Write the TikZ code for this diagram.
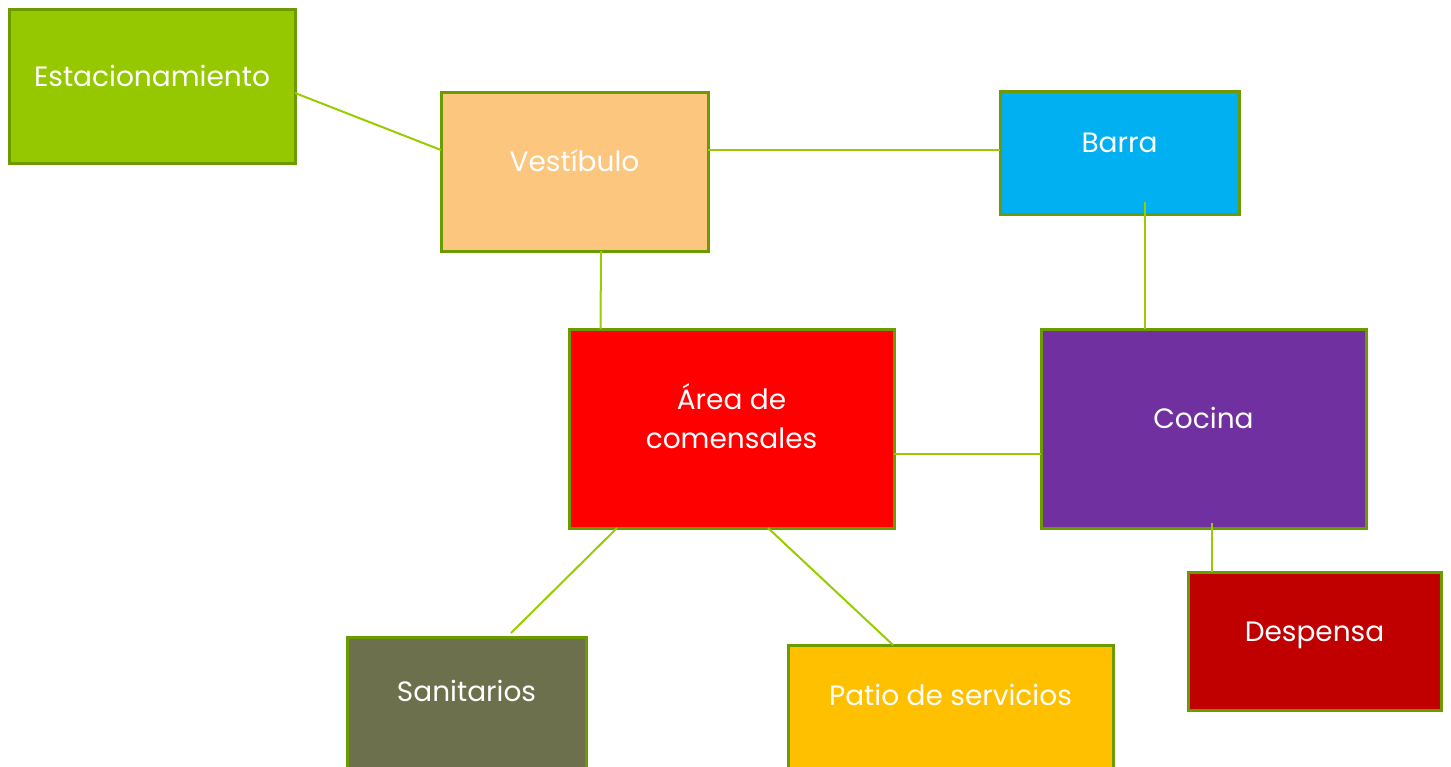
\documentclass[tikz,border=0pt]{standalone}
\usepackage{fontspec}
\setmainfont{Poppins}
\usetikzlibrary{calc}
\definecolor{bordergreen}{HTML}{6B9B00}
\definecolor{linkgreen}{HTML}{99CC00}
\definecolor{cEst}{HTML}{96C800}
\definecolor{cVes}{HTML}{FDC67F}
\definecolor{cBar}{HTML}{00B0F0}
\definecolor{cArea}{HTML}{FF0000}
\definecolor{cCoc}{HTML}{7030A0}
\definecolor{cDes}{HTML}{C00000}
\definecolor{cSan}{HTML}{6C704C}
\definecolor{cPat}{HTML}{FFC000}
\tikzset{
  box/.style={draw=bordergreen, line width=3pt, rectangle, anchor=north west,
    inner sep=0pt, outer sep=0pt},
  lbl/.style={text=white, font=\fontsize{28}{38}\selectfont, align=center, inner sep=0pt, anchor=base},
  conn/.style={draw=linkgreen, line width=2pt}
}
\begin{document}
\begin{tikzpicture}[x=1pt, y=-1pt]
\useasboundingbox (0,0) rectangle (1451,766);
\clip (0,0) rectangle (1451,766);
% boxes
\node[box, fill=cEst, minimum width=286pt, minimum height=154pt] (est) at (9,9) {};
\node[box, fill=cVes, minimum width=267pt, minimum height=159pt] (ves) at (441,92) {};
\node[box, fill=cBar, minimum width=239pt, minimum height=123pt] (bar) at (1000,91) {};
\node[box, fill=cArea, minimum width=325pt, minimum height=199pt] (area) at (569,329) {};
\node[box, fill=cCoc, minimum width=325pt, minimum height=199pt] (coc) at (1041,329) {};
\node[box, fill=cDes, minimum width=253pt, minimum height=138pt] (des) at (1188,572) {};
\node[box, fill=cSan, minimum width=239pt, minimum height=160pt] (san) at (347,637) {};
\node[box, fill=cPat, minimum width=325pt, minimum height=160pt] (pat) at (788,645) {};
% labels
\node[lbl] (tEst) at (est.center) {Estacionamiento};
\node[lbl] (tVes) at (ves.center) {Vestíbulo};
\node[lbl] (tBar) at (bar.center) {Barra};
\node[lbl] (tArea1) at ([yshift=19.5pt]area.center) {Área de};
\node[lbl] (tArea2) at ([yshift=-19.5pt]area.center) {comensales};
\node[lbl] (tCoc) at (coc.center) {Cocina};
\node[lbl] (tDes) at (des.center) {Despensa};
\node[lbl] (tSan) at ([yshift=-64pt]san.north) {Sanitarios};
\node[lbl] (tPat) at ([yshift=-60pt]pat.north) {Patio de servicios};
% connectors
\draw[conn] ([yshift=-7pt]est.east) -- ([yshift=21.5pt]ves.west);
\draw[conn] ([yshift=21.5pt]ves.east) -- ([yshift=2.5pt]bar.west);
\draw[conn] ([xshift=26.5pt]ves.south) -- ([xshift=31.5pt]area.north west);
\draw[conn] ([xshift=25.5pt,yshift=12pt]bar.south) -- ([xshift=-58.5pt]coc.north);
\draw[conn] ([yshift=-25.5pt]area.east) -- ([yshift=-25.5pt]coc.west);
\draw[conn] ([xshift=8.5pt,yshift=5pt]coc.south) -- ([xshift=24pt]des.north west);
\draw[conn] ([xshift=-114.5pt]area.south) -- ([xshift=44.5pt,yshift=4pt]san.north);
\draw[conn] ([xshift=36.5pt]area.south) -- ([xshift=-57.5pt]pat.north);
\end{tikzpicture}
\end{document}
